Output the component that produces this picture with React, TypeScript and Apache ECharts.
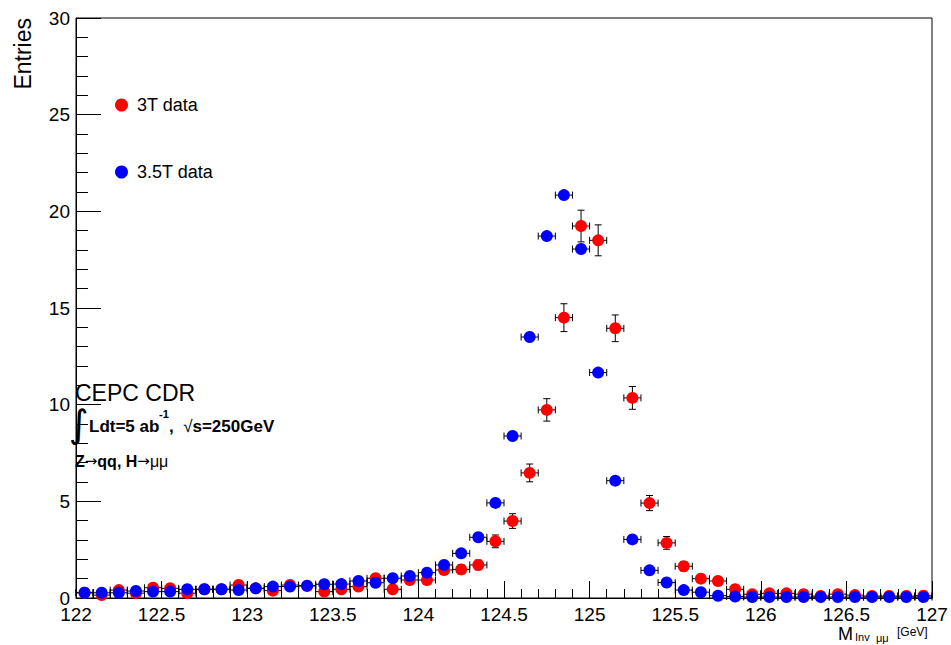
import React, { useEffect, useRef } from "react";
import * as echarts from "echarts";

// Histogram binning (122 – 127 GeV, 50 bins)
const binLow = 122;
const binWidth = 0.1;

// 3T data (red)
const data3T = [
  0.27, 0.15, 0.41, 0.25, 0.53, 0.5, 0.25, 0.45, 0.45, 0.67,
  0.5, 0.38, 0.67, 0.62, 0.33, 0.45, 0.59, 1.02, 0.45, 0.93,
  0.93, 1.45, 1.48, 1.71, 2.93, 3.98, 6.47, 9.73, 14.5, 19.24,
  18.5, 13.95, 10.35, 4.91, 2.85, 1.64, 1.0, 0.88, 0.45, 0.19,
  0.24, 0.24, 0.2, 0.1, 0.2, 0.15, 0.1, 0.1, 0.1, 0.12,
];
// 3T vertical errors
const err3T = [
  0.1, 0.07, 0.12, 0.09, 0.14, 0.13, 0.09, 0.12, 0.12, 0.15,
  0.13, 0.11, 0.15, 0.15, 0.1, 0.12, 0.14, 0.19, 0.12, 0.18,
  0.18, 0.23, 0.23, 0.25, 0.33, 0.38, 0.46, 0.58, 0.72, 0.82,
  0.8, 0.69, 0.59, 0.39, 0.33, 0.24, 0.19, 0.18, 0.13, 0.08,
  0.09, 0.09, 0.08, 0.06, 0.08, 0.07, 0.06, 0.06, 0.06, 0.06,
];
// 3.5T data (blue)
const data35T = [
  0.27, 0.27, 0.27, 0.36, 0.33, 0.33, 0.45, 0.45, 0.45, 0.41,
  0.5, 0.59, 0.59, 0.64, 0.71, 0.72, 0.88, 0.79, 1.02, 1.14,
  1.31, 1.71, 2.31, 3.14, 4.92, 8.38, 13.5, 18.72, 20.84, 18.05,
  11.66, 6.07, 3.03, 1.43, 0.8, 0.41, 0.3, 0.12, 0.08, 0.05,
  0.05, 0.05, 0.05, 0.05, 0.05, 0.05, 0.05, 0.05, 0.05, 0.05,
];

const xMin = 122;
const xMax = 127;
const xStep = 0.5;
const yMin = 0;
const yMax = 30;
const yStep = 5;

const seriesNames = ["3T data", "3.5T data"];
const FONT = "Liberation Sans, Arial, Helvetica, sans-serif";

const binCenters = data3T.map((_, i) => +(binLow + (i + 0.5) * binWidth).toFixed(3));

function errorBarRender(params: any, api: any) {
  const x = api.value(0);
  const y = api.value(1);
  const e = api.value(2);
  const half = binWidth / 2;
  const pL = api.coord([x - half, y]);
  const pR = api.coord([x + half, y]);
  const cap = 3.5;
  const style = { stroke: "#000", lineWidth: 1 };
  const children: any[] = [
    { type: "line", shape: { x1: pL[0], y1: pL[1], x2: pR[0], y2: pR[1] }, style },
    { type: "line", shape: { x1: pL[0], y1: pL[1] - cap, x2: pL[0], y2: pL[1] + cap }, style },
    { type: "line", shape: { x1: pR[0], y1: pR[1] - cap, x2: pR[0], y2: pR[1] + cap }, style },
  ];
  if (e > 0) {
    const pT = api.coord([x, y + e]);
    const pB = api.coord([x, y - e]);
    children.push(
      { type: "line", shape: { x1: pT[0], y1: pT[1], x2: pB[0], y2: pB[1] }, style },
      { type: "line", shape: { x1: pT[0] - cap, y1: pT[1], x2: pT[0] + cap, y2: pT[1] }, style },
      { type: "line", shape: { x1: pB[0] - cap, y1: pB[1], x2: pB[0] + cap, y2: pB[1] }, style }
    );
  }
  return { type: "group", children };
}

function txt(text: string, x: number, y: number, size: number, extra: any = {}, el: any = {}) {
  const align = extra.align || "left";
  const va = extra.verticalAlign || "middle";
  return {
    type: "text",
    x,
    y,
    silent: true,
    ...el,
    style: {
      text,
      fontSize: size,
      fontFamily: FONT,
      fontWeight: extra.fontWeight || "normal",
      fill: "#000",
      align,
      verticalAlign: va,
      textAlign: align,
      textVerticalAlign: va,
      ...(extra.rich ? { rich: extra.rich } : {}),
    },
  };
}

export default function App() {
  const ref = useRef<HTMLDivElement>(null);

  useEffect(() => {
    if (!ref.current) return;
    const chart = echarts.init(ref.current, undefined, { renderer: "svg" });

    const axisCommon = {
      type: "value",
      axisLine: { show: true, onZero: false, lineStyle: { color: "#000", width: 1 } },
      splitLine: { show: false },
    };

    const legendCommon = {
      left: 110,
      itemWidth: 13,
      itemHeight: 13,
      icon: "circle",
      textStyle: { color: "#000", fontSize: 18, fontFamily: FONT, padding: [0, 0, 0, 4], lineHeight: 13 },
      selectedMode: false,
    };

    const option: any = {
      animation: false,
      backgroundColor: "#fff",
      grid: {
        left: 76,
        right: 19,
        top: 18,
        bottom: 47,
        show: true,
        borderColor: "#000",
        borderWidth: 1,
        backgroundColor: "transparent",
      },
      xAxis: {
        ...axisCommon,
        min: xMin,
        max: xMax,
        interval: xStep,
        axisTick: { show: true, inside: true, length: 17, lineStyle: { color: "#000" } },
        minorTick: { show: true, splitNumber: 5, length: 9, lineStyle: { color: "#000" } },
        axisLabel: {
          color: "#000",
          fontSize: 19,
          fontFamily: FONT,
          margin: 7,
          showMinLabel: true,
          showMaxLabel: true,
        },
      },
      yAxis: {
        ...axisCommon,
        min: yMin,
        max: yMax,
        interval: yStep,
        axisTick: { show: true, inside: true, length: 25, lineStyle: { color: "#000" } },
        minorTick: { show: true, splitNumber: 5, length: 12, lineStyle: { color: "#000" } },
        axisLabel: {
          color: "#000",
          fontSize: 19,
          fontFamily: FONT,
          margin: 6,
          showMinLabel: true,
          showMaxLabel: true,
        },
      },
      legend: [
        { ...legendCommon, data: [seriesNames[0]], top: 91 },
        { ...legendCommon, data: [seriesNames[1]], top: 158 },
      ],
      series: [
        {
          name: "3T errors",
          type: "custom",
          renderItem: errorBarRender,
          encode: { x: 0, y: 1 },
          data: data3T.map((v, i) => [binCenters[i], v, err3T[i]]),
          silent: true,
        },
        {
          name: seriesNames[0],
          type: "scatter",
          symbol: "circle",
          symbolSize: 12,
          itemStyle: { color: "#ff0000", opacity: 1 },
          data: data3T.map((v, i) => [binCenters[i], v]),
          clip: false,
        },
        {
          name: "3.5T errors",
          type: "custom",
          renderItem: errorBarRender,
          encode: { x: 0, y: 1 },
          data: data35T.map((v, i) => [binCenters[i], v, 0]),
          silent: true,
        },
        {
          name: seriesNames[1],
          type: "scatter",
          symbol: "circle",
          symbolSize: 12,
          itemStyle: { color: "#0000ff", opacity: 1 },
          data: data35T.map((v, i) => [binCenters[i], v]),
          clip: false,
        },
      ],
      graphic: [
        // y axis title
        txt("Entries", 23, 18, 23, { align: "right", verticalAlign: "middle" }, { rotation: Math.PI / 2 }),
        // x axis title: M_{Inv μμ} [GeV]
        txt("M", 838, 634, 18),
        txt("Inv", 855, 637, 11),
        txt("μμ", 876, 638, 11),
        txt("[GeV]", 897, 632, 12),
        // CEPC labels
        txt("CEPC CDR", 75, 393, 23),
        {
          type: "text",
          x: 79,
          y: 424,
          silent: true,
          style: {
            text: "∫",
            fontSize: 38,
            fontFamily: "DejaVu Sans",
            fill: "#000",
            align: "center",
            verticalAlign: "middle",
            textAlign: "center",
            textVerticalAlign: "middle",
          },
        },
        txt("Ldt=5 ab", 89, 426, 17, { fontWeight: "bold" }),
        txt("-1", 159, 414, 11, { fontWeight: "bold" }),
        txt("{b|,  }{r|√}{b|s=250GeV}", 169, 426, 17, {
          rich: {
            b: { fontSize: 17, fontFamily: FONT, fontWeight: "bold", fill: "#000" },
            r: { fontSize: 17, fontFamily: FONT, fontWeight: "normal", fill: "#000" },
          },
        }),
        txt("{b|Z}{a|→}{b|qq, H}{a|→}{r|μμ}", 75, 461, 16, {
          rich: {
            b: { fontSize: 16, fontFamily: FONT, fontWeight: "bold", fill: "#000" },
            a: { fontSize: 15, fontFamily: "DejaVu Sans", fontWeight: "normal", fill: "#000" },
            r: { fontSize: 16, fontFamily: FONT, fontWeight: "normal", fill: "#000" },
          },
        }),
      ],
    };

    chart.setOption(option);
    return () => chart.dispose();
  }, []);

  return <div ref={ref} style={{ width: 951, height: 645, position: "absolute", left: 0, top: 0 }} />;
}
